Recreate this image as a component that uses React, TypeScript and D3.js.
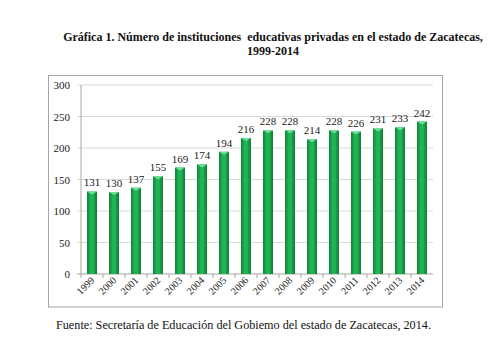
import React from "react";
import * as d3 from "d3";

const years = ["1999","2000","2001","2002","2003","2004","2005","2006","2007","2008","2009","2010","2011","2012","2013","2014"];
const values = [131,130,137,155,169,174,194,216,228,228,214,228,226,231,233,242];
const yTicks = [0,50,100,150,200,250,300];
const titleLines = ["Gráfica 1. Número de instituciones  educativas privadas en el estado de Zacatecas,", "1999-2014"];
const source = "Fuente: Secretaría de Educación del Gobiemo del estado de Zacatecas, 2014.";

export default function App() {
  const W = 498, H = 340;
  const left = 81, right = 433, top = 85, bottom = 274;
  const x = d3.scaleBand<string>().domain(years).range([left, right]).paddingInner(0.55).paddingOuter(0.275);
  const y = d3.scaleLinear().domain([0, 300]).range([bottom, top]);
  const font = "'Liberation Serif', 'Times New Roman', serif";
  return (
    <svg width={W} height={H} style={{ position: "absolute", left: 0, top: 0, background: "#fff" }}>
      <defs>
        <linearGradient id="bar" x1="0" x2="1" y1="0" y2="0">
          <stop offset="0" stopColor="#0d7a34" />
          <stop offset="0.3" stopColor="#1db152" />
          <stop offset="0.6" stopColor="#22b856" />
          <stop offset="1" stopColor="#0b7430" />
        </linearGradient>
      </defs>
      <rect x={0} y={0} width={W} height={H} fill="#fff" />
      {titleLines.map((t, i) => (
        <text key={i} x={273} y={41 + i * 14} textAnchor="middle" fontFamily={font} fontWeight="bold" fontSize={12} fill="#111" style={{ whiteSpace: "pre" }}>{t}</text>
      ))}
      <rect x={48.5} y={75.5} width={394} height={231.5} fill="none" stroke="#a6a6a6" strokeWidth={1} />
      {yTicks.map(t => (
        <g key={t}>
          <line x1={left - 4} x2={right} y1={y(t)} y2={y(t)} stroke={t === 0 ? "#a6a6a6" : "#d9d9d9"} strokeWidth={1} />
          <text x={70} y={y(t) + 4} textAnchor="end" fontFamily={font} fontSize={11} fill="#222">{t}</text>
        </g>
      ))}
      <line x1={left} x2={left} y1={top} y2={bottom} stroke="#a6a6a6" />
      {years.map(yr => (
        <line key={"t" + yr} x1={x(yr)! + x.bandwidth() / 2 - x.step() / 2} x2={x(yr)! + x.bandwidth() / 2 - x.step() / 2} y1={bottom} y2={bottom + 4} stroke="#a6a6a6" />
      ))}
      {years.map((yr, i) => {
        const bx = x(yr)!;
        const bw = x.bandwidth();
        const by = y(values[i]);
        return (
          <g key={yr}>
            <rect x={bx} y={by} width={bw} height={bottom - by} fill="url(#bar)" />
            <path d={`M${bx},${by} L${bx + bw},${by} L${bx + bw / 2},${by + 3} Z`} fill="#6fe09a" />
            <text x={bx + bw / 2} y={by - 5} textAnchor="middle" fontFamily={font} fontSize={11} fill="#222">{values[i]}</text>
            <text transform={`translate(${bx + bw / 2 + 3},${bottom + 7}) rotate(-45)`} textAnchor="end" fontFamily={font} fontSize={10} fill="#222">{yr}</text>
          </g>
        );
      })}
      <text x={56} y={329} fontFamily={font} fontSize={12.2} fill="#111">{source}</text>
    </svg>
  );
}
